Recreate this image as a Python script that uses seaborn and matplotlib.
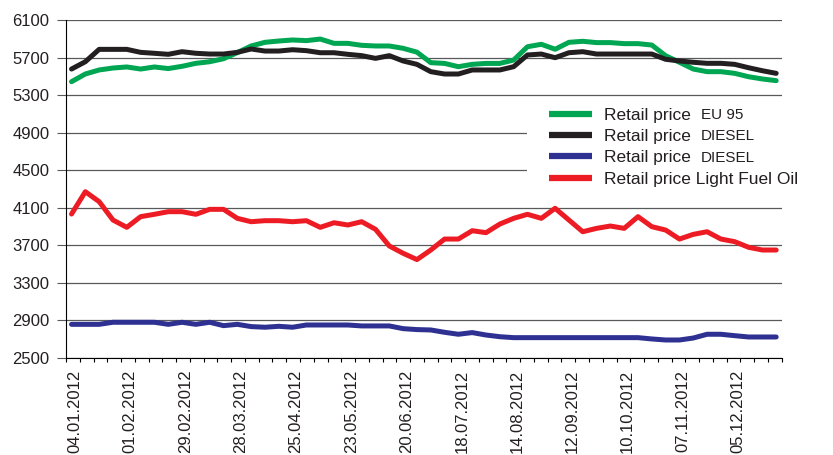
import matplotlib
matplotlib.use("Agg")
import matplotlib.pyplot as plt
from matplotlib.patches import Rectangle
from matplotlib.text import Annotation
import numpy as np
import seaborn as sns

# Weekly retail fuel prices, 2012
week = list(range(52))

eu95 = [5445, 5527, 5570, 5591, 5602, 5580, 5602, 5585, 5609, 5641,
        5658, 5690, 5755, 5826, 5865, 5879, 5890, 5883, 5900, 5854,
        5854, 5833, 5826, 5826, 5801, 5760, 5648, 5640, 5605, 5630,
        5640, 5640, 5676, 5818, 5844, 5791, 5865, 5876, 5862, 5862,
        5851, 5851, 5836, 5722, 5652, 5580, 5552, 5552, 5534, 5498,
        5474, 5456]

diesel = [5580, 5658, 5790, 5790, 5790, 5758, 5748, 5737, 5765, 5748,
          5740, 5740, 5758, 5794, 5772, 5772, 5786, 5776, 5754, 5754,
          5737, 5723, 5694, 5723, 5666, 5630, 5552, 5527, 5527, 5570,
          5570, 5570, 5605, 5730, 5740, 5701, 5754, 5765, 5740, 5740,
          5740, 5740, 5740, 5684, 5666, 5652, 5641, 5641, 5630, 5594,
          5562, 5534]

diesel_blue = [2856, 2856, 2856, 2878, 2878, 2878, 2878, 2856, 2878, 2856,
               2878, 2842, 2856, 2832, 2825, 2835, 2825, 2849, 2849, 2849,
               2849, 2839, 2839, 2839, 2810, 2800, 2796, 2771, 2750, 2768,
               2742, 2724, 2714, 2714, 2714, 2714, 2714, 2714, 2714, 2714,
               2714, 2714, 2700, 2689, 2689, 2710, 2750, 2750, 2735, 2721,
               2721, 2721]

fuel_oil = [4033, 4271, 4165, 3969, 3891, 4005, 4030, 4058, 4058, 4030,
            4083, 4083, 3987, 3951, 3962, 3962, 3951, 3962, 3891, 3940,
            3916, 3951, 3870, 3692, 3614, 3547, 3649, 3766, 3766, 3855,
            3834, 3926, 3987, 4030, 3987, 4094, 3969, 3844, 3880, 3905,
            3880, 4005, 3898, 3862, 3766, 3816, 3844, 3766, 3738, 3678,
            3649, 3649]

date_labels = ["04.01.2012", "01.02.2012", "29.02.2012", "28.03.2012",
               "25.04.2012", "23.05.2012", "20.06.2012", "18.07.2012",
               "14.08.2012", "12.09.2012", "10.10.2012", "07.11.2012",
               "05.12.2012"]
y_ticks = [2500, 2900, 3300, 3700, 4100, 4500, 4900, 5300, 5700, 6100]

legend_main = ["Retail price", "Retail price", "Retail price",
               "Retail price Light Fuel Oil"]
legend_suffix = ["EU 95", "DIESEL", "DIESEL", None]
colors = ["#00a651", "#231f20", "#2e3192", "#ed1c24"]

sns.set_theme(style="white")
plt.rcParams["font.family"] = ["Liberation Sans", "DejaVu Sans"]
text_color = "#231f20"
grid_color = "#58595b"

W, H = 833, 455
fig = plt.figure(figsize=(W / 100, H / 100), dpi=100)
ax = fig.add_axes([66 / W, 1 - 357.7 / H, 715.7 / W, 337.4 / H])

for vals, color, label in zip([eu95, diesel, diesel_blue, fuel_oil], colors, legend_main):
    sns.lineplot(x=week, y=vals, color=color, lw=3.6, label=label, ax=ax,
                 solid_joinstyle="round", zorder=3)

ax.set_xlim(-0.4, 51.4)
ax.set_ylim(2500, 6100)
ax.set_xlabel("")
ax.set_ylabel("")

# horizontal grid
ax.set_yticks(y_ticks)
ax.set_yticklabels([str(v) for v in y_ticks])
ax.yaxis.grid(True, color=grid_color, lw=0.9)
ax.set_axisbelow(True)
ax.tick_params(axis="y", which="major", length=6.5, width=0.8, color=grid_color,
               pad=5.5, labelsize=12, labelcolor=text_color, left=True)

# category axis: week separators as minor ticks, dates every four weeks
ax.set_xticks(np.arange(0, 49, 4) + 0.25)
ax.set_xticklabels(date_labels, rotation=90)
ax.set_xticks(np.linspace(-0.4, 51.4, 53), minor=True)
ax.tick_params(axis="x", which="major", length=0, pad=8.5, labelsize=12,
               labelcolor=text_color)
ax.tick_params(axis="x", which="minor", length=3, width=0.8, color="black",
               direction="out", bottom=True)

for side in ["top", "right"]:
    ax.spines[side].set_visible(False)
for side in ["left", "bottom"]:
    ax.spines[side].set_color("black")
    ax.spines[side].set_linewidth(0.8)

# white backing behind the legend block
ax.add_patch(Rectangle((0.644, 0.5), 0.4, 0.25, transform=ax.transAxes,
                       facecolor="white", edgecolor="none", zorder=1,
                       clip_on=True))

leg = ax.legend(loc="upper left", bbox_to_anchor=(549.3 / W, 1 - 107.5 / H),
                bbox_transform=fig.transFigure, frameon=False, fontsize=12.5,
                handlelength=2.45, handletextpad=0.7, labelspacing=0.36,
                borderpad=0, borderaxespad=0)
for line in leg.get_lines():
    line.set_linewidth(4.5)
    line.set_solid_capstyle("butt")
for t in leg.get_texts():
    t.set_color(text_color)

fig.canvas.draw()
for t, suffix in zip(leg.get_texts(), legend_suffix):
    if suffix:
        fig.add_artist(Annotation(suffix, xy=(1, 0), xycoords=t,
                                  xytext=(7, 2.65), textcoords="offset points",
                                  fontsize=11, va="baseline", ha="left",
                                  color=text_color))

fig.savefig("out.png", dpi=100)
